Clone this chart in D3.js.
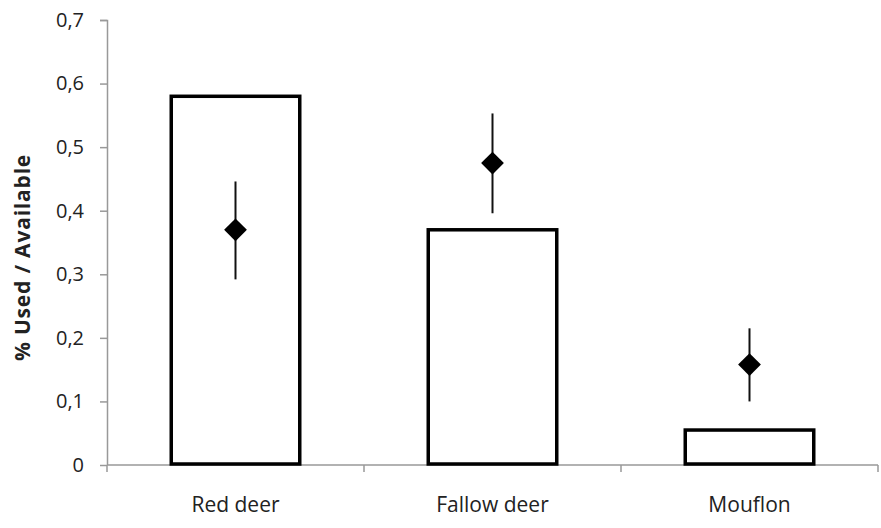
<!DOCTYPE html>
<html>
<head>
<meta charset="utf-8">
<script src="https://cdn.jsdelivr.net/npm/d3@7"></script>
<style>
  body { margin: 0; background: #fff; }
  text { font-family: "Open Sans", "Liberation Sans", sans-serif; fill: #222; }
</style>
</head>
<body>
<div id="chart"></div>
<script>
// values
let species = ['Red deer', 'Fallow deer', 'Mouflon'];
let barValues = [0.58, 0.37, 0.055];
let pointValues = [0.37, 0.475, 0.158];
let errLow = [0.292, 0.396, 0.10];
let errHigh = [0.446, 0.553, 0.215];
let yTicks = [0, 0.1, 0.2, 0.3, 0.4, 0.5, 0.6, 0.7];

let width = 881;
let height = 528;
let margin = { top: 20, right: 3, bottom: 63, left: 107 };
let innerW = width - margin.left - margin.right;
let innerH = height - margin.top - margin.bottom;

let data = species.map((s, i) => ({
  name: s,
  bar: barValues[i],
  point: pointValues[i],
  lo: errLow[i],
  hi: errHigh[i]
}));

let svg = d3.select('#chart')
  .append('svg')
  .attr('width', width)
  .attr('height', height)
  .append('g')
  .attr('transform', 'translate(' + margin.left + ',' + margin.top + ')');

let x = d3.scaleBand()
  .domain(species)
  .range([0, innerW])
  .paddingInner(0.5)
  .paddingOuter(0.25)
  .align(0.5);

// band used for the axis ticks between categories
let xOuter = d3.scaleBand().domain(species).range([0, innerW]);

let y = d3.scaleLinear()
  .domain([0, 0.7])
  .range([innerH, 0]);

let fmt = d => d === 0 ? '0' : d3.format('.1f')(d).replace('.', ',');

// y axis
let yAxis = svg.append('g')
  .call(d3.axisLeft(y).tickValues(yTicks).tickFormat(fmt).tickSize(7).tickPadding(16));
yAxis.select('.domain').attr('stroke', '#999').attr('stroke-width', 1.5)
  .attr('d', 'M-7,0.5H0.5V' + innerH);
yAxis.selectAll('.tick line').attr('stroke', '#999').attr('stroke-width', 1.5);
yAxis.selectAll('.tick text').attr('font-size', 20).attr('fill', '#222')
  .style('font-family', '"Open Sans", sans-serif');

// x axis line + boundary ticks
let xAxis = svg.append('g').attr('transform', 'translate(0,' + innerH + ')');
xAxis.append('line')
  .attr('x1', 0).attr('x2', innerW)
  .attr('stroke', '#999').attr('stroke-width', 1.5);
let bounds = [0].concat(species.map(s => xOuter(s) + xOuter.bandwidth()));
xAxis.selectAll('.bound')
  .data(bounds)
  .enter().append('line')
  .attr('class', 'bound')
  .attr('x1', d => d).attr('x2', d => d)
  .attr('y1', 0).attr('y2', 7)
  .attr('stroke', '#999').attr('stroke-width', 1.5);
xAxis.selectAll('.lab')
  .data(species)
  .enter().append('text')
  .attr('class', 'lab')
  .attr('x', d => xOuter(d) + xOuter.bandwidth() / 2)
  .attr('y', 47)
  .attr('text-anchor', 'middle')
  .attr('font-size', 21)
  .text(d => d);

// y label
svg.append('text')
  .attr('transform', 'translate(' + (-77) + ',' + (innerH / 2 + 15) + ') rotate(-90)')
  .attr('text-anchor', 'middle')
  .attr('font-size', 21)
  .attr('font-weight', 'bold')
  .attr('letter-spacing', 0.8)
  .text('% Used / Available');

// bars
svg.selectAll('.bar')
  .data(data)
  .enter().append('rect')
  .attr('class', 'bar')
  .attr('x', d => x(d.name))
  .attr('y', d => y(d.bar))
  .attr('width', x.bandwidth())
  .attr('height', d => innerH - y(d.bar) - 1)
  .attr('fill', '#fff')
  .attr('stroke', '#000')
  .attr('stroke-width', 3.5);

// error bars
svg.selectAll('.err')
  .data(data)
  .enter().append('line')
  .attr('class', 'err')
  .attr('x1', d => x(d.name) + x.bandwidth() / 2)
  .attr('x2', d => x(d.name) + x.bandwidth() / 2)
  .attr('y1', d => y(d.hi))
  .attr('y2', d => y(d.lo))
  .attr('stroke', '#111')
  .attr('stroke-width', 2);

// diamonds
let diamond = d3.symbol().type(d3.symbolSquare).size(260);
svg.selectAll('.pt')
  .data(data)
  .enter().append('path')
  .attr('class', 'pt')
  .attr('d', diamond)
  .attr('transform', d => 'translate(' + (x(d.name) + x.bandwidth() / 2) + ',' + y(d.point) + ') rotate(45)')
  .attr('fill', '#000');
</script>
</body>
</html>
